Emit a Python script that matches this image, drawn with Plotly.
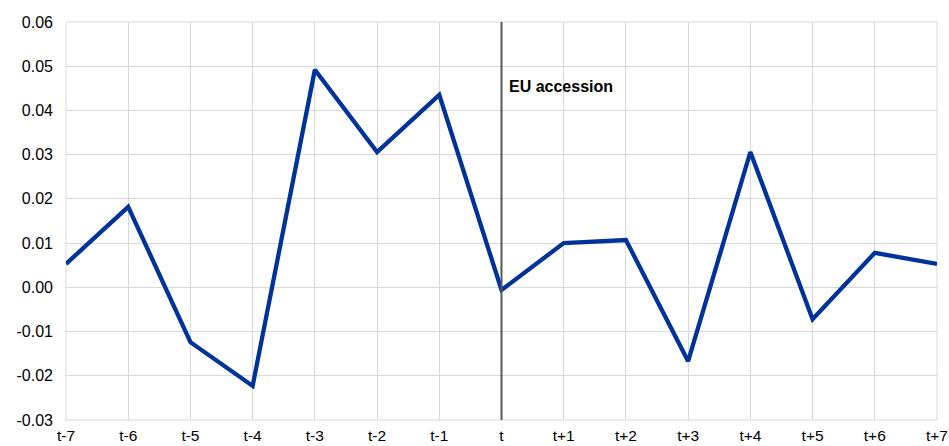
import plotly.graph_objects as go

categories = ["t-7", "t-6", "t-5", "t-4", "t-3", "t-2", "t-1", "t",
              "t+1", "t+2", "t+3", "t+4", "t+5", "t+6", "t+7"]
values = [0.0053, 0.0182, -0.0124, -0.0223, 0.0492, 0.0306, 0.0435, -0.0006,
          0.0100, 0.0107, -0.0167, 0.0306, -0.0072, 0.0078, 0.0053]
y_ticks = [-0.03, -0.02, -0.01, 0.00, 0.01, 0.02, 0.03, 0.04, 0.05, 0.06]
event_label = "EU accession"
event_at = "t"

FONT = "Liberation Sans, Arial, sans-serif"

fig = go.Figure()
fig.add_trace(go.Scatter(
    x=categories, y=values, mode="lines",
    line=dict(color="#003399", width=4.3), showlegend=False,
))

fig.add_shape(type="line", xref="x", yref="y", x0=event_at, x1=event_at,
              y0=y_ticks[0], y1=y_ticks[-1],
              line=dict(color="#595959", width=2), layer="above")
fig.add_annotation(x=event_at, y=0.0455, xref="x", yref="y", text=f"<b>{event_label}</b>",
                   showarrow=False, xanchor="left", xshift=5,
                   font=dict(family=FONT, size=16, color="#000000"))

fig.update_layout(
    width=949, height=446,
    margin=dict(l=66, r=12, t=22, b=26),
    paper_bgcolor="white", plot_bgcolor="white",
    font=dict(family=FONT, size=16, color="#000000"),
    xaxis=dict(type="category", categoryorder="array", categoryarray=categories,
               range=[0, len(categories) - 1], automargin=False,
               showgrid=True, gridcolor="#d9d9d9", gridwidth=1,
               showline=False, zeroline=False, ticks="", ticklabelstandoff=4,
               tickfont=dict(size=15.5)),
    yaxis=dict(range=[y_ticks[0], y_ticks[-1]], tickvals=y_ticks, automargin=False,
               ticktext=[f"{v:.2f}" for v in y_ticks],
               showgrid=True, gridcolor="#d9d9d9", gridwidth=1,
               zeroline=False, showline=False, ticks="", ticklabelstandoff=12),
)
fig.add_shape(type="rect", xref="paper", yref="paper", x0=0, x1=1, y0=0, y1=1,
              line=dict(color="#d9d9d9", width=1), layer="below")

fig.write_html("out.html", config={"displayModeBar": False},
               post_script="document.body.style.margin='0';document.body.style.overflow='hidden';")
